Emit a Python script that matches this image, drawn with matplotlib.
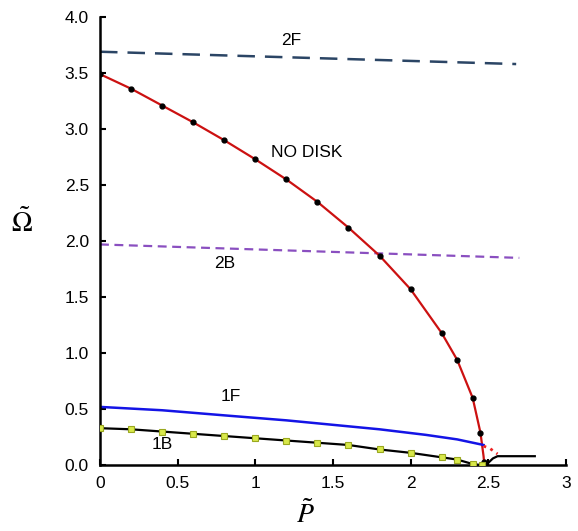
import matplotlib
matplotlib.use("Agg")
import matplotlib.pyplot as plt

plt.rcParams["font.family"] = ["Liberation Sans", "DejaVu Sans"]
plt.rcParams["mathtext.fontset"] = "stix"

# NO DISK branch (red line with black dots)
nodisk_p = [0.0, 0.2, 0.4, 0.6, 0.8, 1.0, 1.2, 1.4, 1.6, 1.8, 2.0, 2.2, 2.3, 2.4, 2.45, 2.47]
nodisk_w = [3.49, 3.36, 3.21, 3.06, 2.90, 2.73, 2.55, 2.35, 2.12, 1.87, 1.57, 1.18, 0.94, 0.60, 0.29, 0.03]
nodisk_line_p = [0.0, 0.2, 0.4, 0.6, 0.8, 1.0, 1.2, 1.4, 1.6, 1.8, 2.0, 2.2, 2.3, 2.4, 2.45, 2.47, 2.475]
nodisk_line_w = [3.49, 3.36, 3.21, 3.06, 2.90, 2.73, 2.55, 2.35, 2.12, 1.87, 1.57, 1.18, 0.94, 0.60, 0.29, 0.08, 0.0]

# 1B branch (black line with yellow squares)
b1_p = [0.0, 0.2, 0.4, 0.6, 0.8, 1.0, 1.2, 1.4, 1.6, 1.8, 2.0, 2.2, 2.3, 2.4, 2.46]
b1_w = [0.33, 0.32, 0.30, 0.28, 0.26, 0.24, 0.22, 0.20, 0.18, 0.14, 0.11, 0.07, 0.05, 0.01, 0.0]

# continuation after the critical load
tail_p = [2.47, 2.50, 2.53, 2.56, 2.80]
tail_w = [0.0, 0.02, 0.06, 0.08, 0.08]
dot_p = [2.47, 2.51, 2.56]
dot_w = [0.17, 0.15, 0.10]

# 1F branch
f1_p = [0.0, 0.4, 0.84, 1.2, 1.5, 1.8, 2.1, 2.3, 2.47]
f1_w = [0.52, 0.49, 0.44, 0.40, 0.36, 0.32, 0.27, 0.23, 0.18]

# 2B and 2F branches
b2_p = [0.0, 2.7]
b2_w = [1.97, 1.85]
f2_p = [0.0, 2.68]
f2_w = [3.69, 3.58]

fig = plt.figure(figsize=(5.78, 5.31), dpi=100)
ax = fig.add_axes([0.173, 0.124, 0.806, 0.844])

ax.plot(f2_p, f2_w, color="#2b4565", lw=1.8, dashes=(7, 4))
ax.plot(b2_p, b2_w, color="#8a4fc0", lw=1.6, dashes=(4, 2.5))
ax.plot(nodisk_line_p, nodisk_line_w, color="#cc1111", lw=1.6)
ax.plot(nodisk_p, nodisk_w, "o", color="black", ms=3.5, zorder=4)
ax.plot(f1_p, f1_w, color="#1414e6", lw=1.8)
ax.plot(dot_p, dot_w, ":", color="#ee2222", lw=2)
ax.plot(b1_p, b1_w, color="black", lw=1.6)
ax.plot(b1_p, b1_w, "s", color="#d8e84a", mec="#9aa820", ms=4.5, mew=0.8, zorder=4)
ax.plot(tail_p, tail_w, color="black", lw=1.6)

ax.text(1.23, 3.79, "2F", fontsize=12.5, ha="center", va="center")
ax.text(1.33, 2.79, "NO DISK", fontsize=12.5, ha="center", va="center")
ax.text(0.8, 1.80, "2B", fontsize=12.5, ha="center", va="center")
ax.text(0.84, 0.61, "1F", fontsize=12.5, ha="center", va="center")
ax.text(0.40, 0.18, "1B", fontsize=12.5, ha="center", va="center")

ax.set_xlim(0, 3)
ax.set_ylim(0, 4)
ax.set_xticks([0, 0.5, 1, 1.5, 2, 2.5, 3])
ax.set_xticklabels(["0", "0.5", "1", "1.5", "2", "2.5", "3"])
ax.set_yticks([0, 0.5, 1, 1.5, 2, 2.5, 3, 3.5, 4])
ax.set_yticklabels([f"{v:.1f}" for v in [0, 0.5, 1, 1.5, 2, 2.5, 3, 3.5, 4]])
ax.tick_params(direction="in", labelsize=12.5, width=1.5, length=4, pad=8)
for s in ["top", "right"]:
    ax.spines[s].set_visible(False)
for s in ["left", "bottom"]:
    ax.spines[s].set_linewidth(1.8)

fig.text(305 / 578, 1 - 515 / 531, r"$\tilde{P}$", fontsize=20, ha="center", va="center")
fig.text(22 / 578, 1 - 223 / 531, r"$\tilde{\Omega}$", fontsize=20, ha="center", va="center")

fig.savefig("out.png", dpi=100)
